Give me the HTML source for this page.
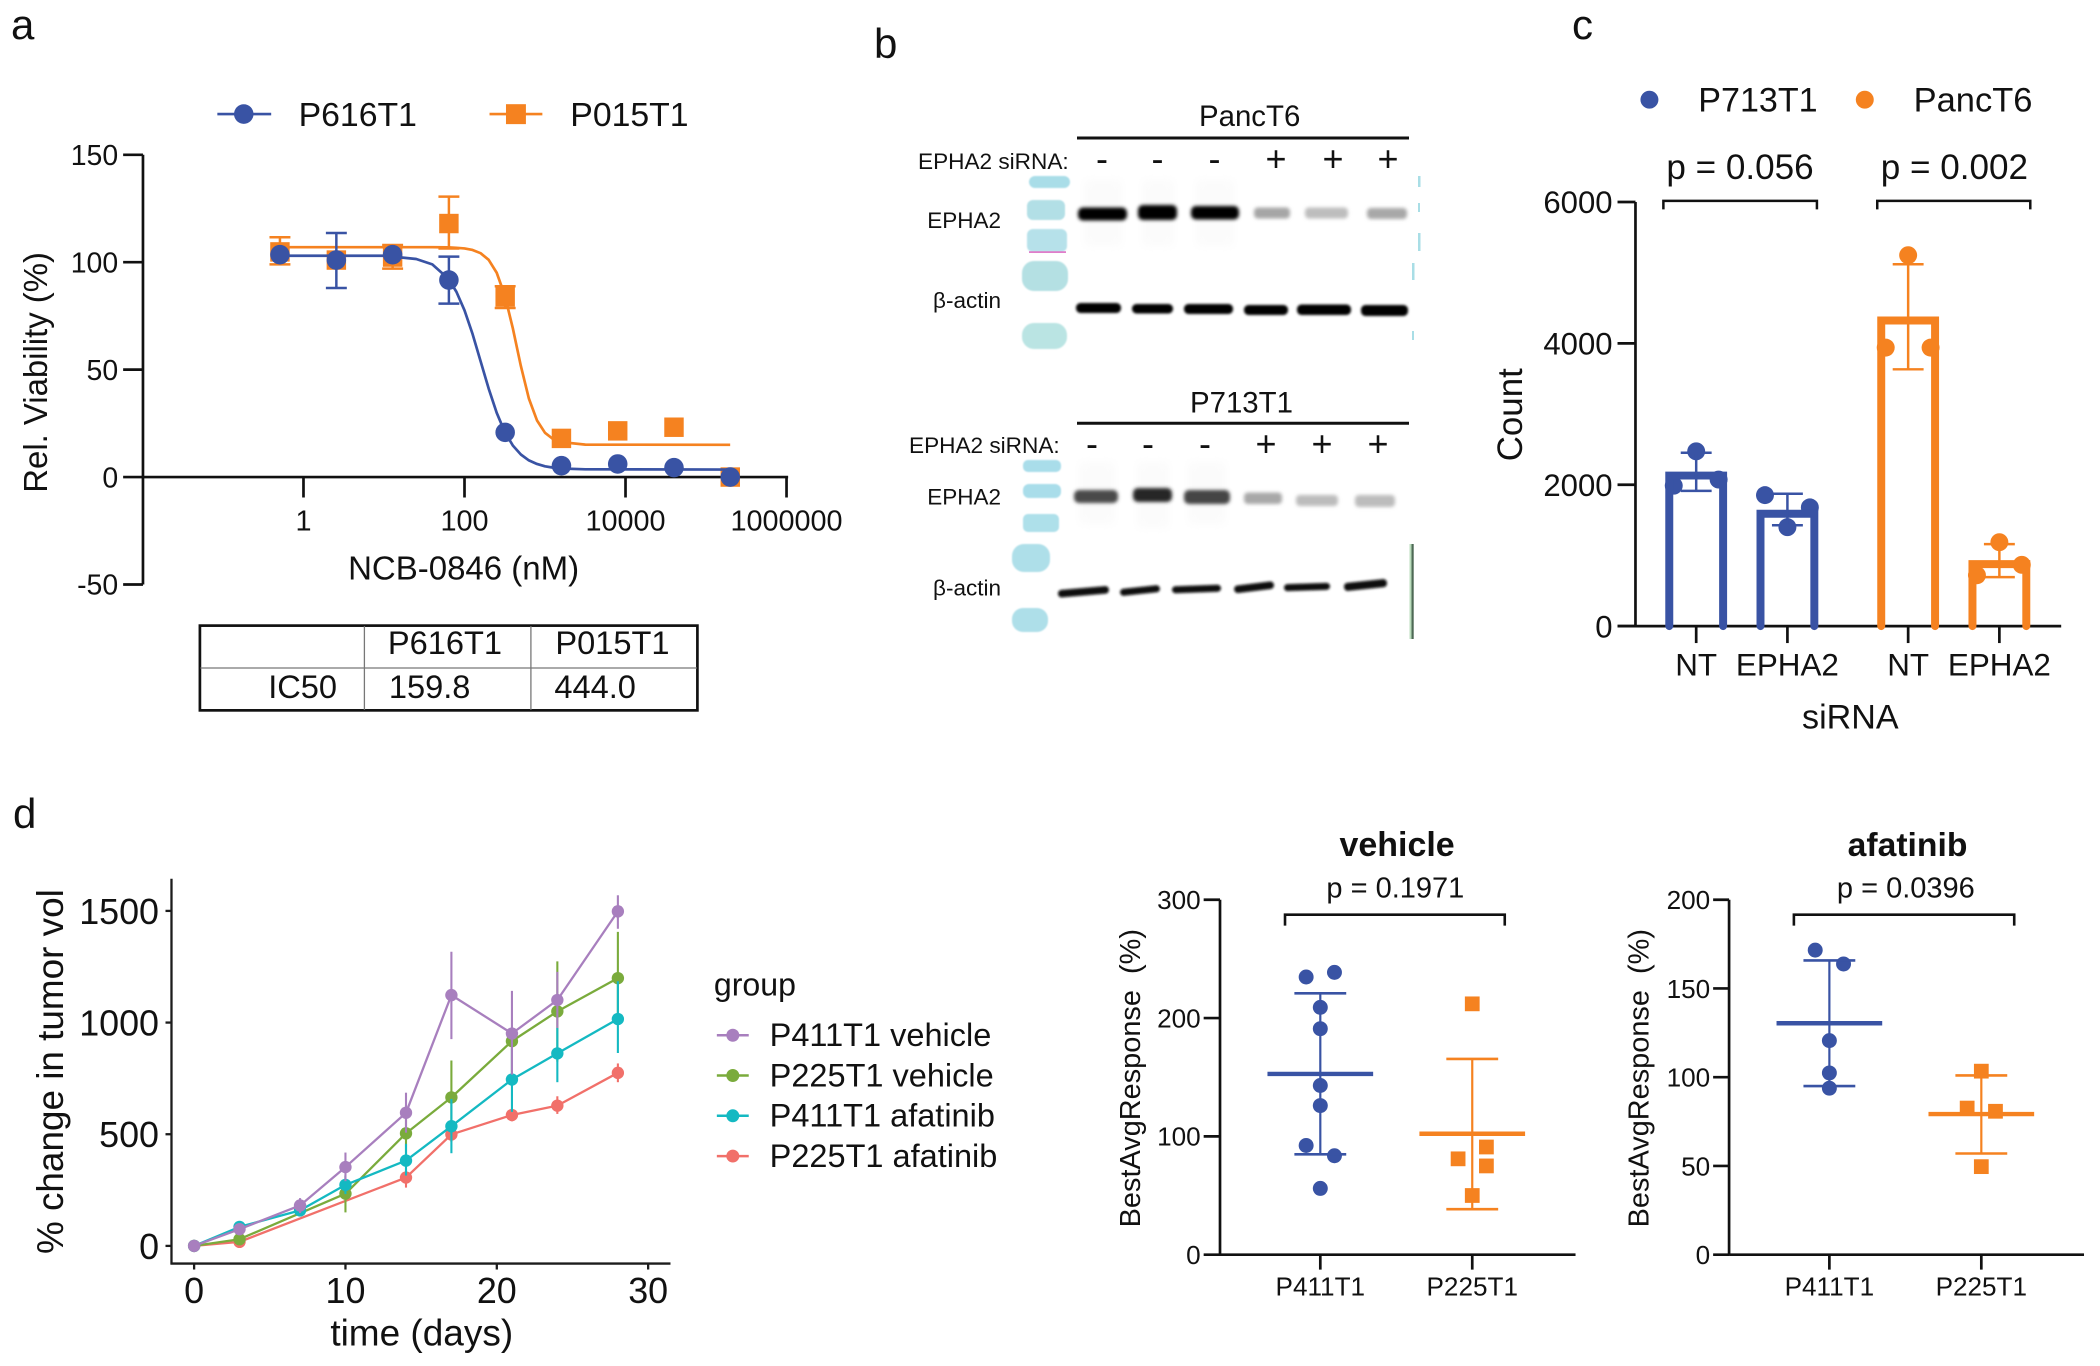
<!DOCTYPE html>
<html lang="en">
<head>
<meta charset="utf-8">
<title>Figure panels a to d</title>
<style>
html,body{margin:0;padding:0;background:#fff;}
svg{display:block;font-family:"Liberation Sans",Arial,sans-serif;}
text{fill:#111;}
</style>
</head>
<body>
<svg id="fig" xmlns="http://www.w3.org/2000/svg" width="2100" height="1366" viewBox="0 0 2100 1366">
<defs>
<filter id="blur2" x="-20%" y="-80%" width="140%" height="260%"><feGaussianBlur stdDeviation="1.8"/></filter>
<filter id="blur1" x="-10%" y="-50%" width="120%" height="200%"><feGaussianBlur stdDeviation="1.3"/></filter>
<filter id="blurL" x="-10%" y="-20%" width="120%" height="140%"><feGaussianBlur stdDeviation="0.9"/></filter>
<filter id="blur6" x="-30%" y="-30%" width="160%" height="160%"><feGaussianBlur stdDeviation="5"/></filter>
</defs>
<rect width="2100" height="1366" fill="#fff"/>

<text x="11" y="39" font-size="42">a</text>
<text x="874" y="58" font-size="42">b</text>
<text x="1572" y="39" font-size="42">c</text>
<text x="13" y="828" font-size="42">d</text>

<!-- Panel a -->
<g id="panelA" transform="scale(0.997)">
<text transform="translate(47,373.5) rotate(-90)" text-anchor="middle" font-size="33">Rel. Viability (%)</text>
<text x="465" y="581" text-anchor="middle" font-size="33.1">NCB-0846 (nM)</text>
<g>
<line x1="218" x2="272" y1="114.4" y2="114.4" stroke="#3953A4" stroke-width="2.7"/>
<circle cx="244.5" cy="114.4" r="9.8" fill="#3953A4"/>
<text x="299.5" y="126.5" font-size="33.9">P616T1</text>
</g>
<g>
<line x1="491" x2="544" y1="114.4" y2="114.4" stroke="#F58220" stroke-width="2.7"/>
<rect x="507.5" y="104.5" width="20" height="20" fill="#F58220"/>
<text x="572" y="126.5" font-size="33.9">P015T1</text>
</g>
</g>
<g transform="scale(0.997)">
<rect x="200.5" y="627.5" width="499" height="85" fill="none" stroke="#111" stroke-width="2.7"/>
<line x1="201" x2="699" y1="670" y2="670" stroke="#777" stroke-width="1.3"/>
<line x1="365.5" x2="365.5" y1="628" y2="712" stroke="#777" stroke-width="1.3"/>
<line x1="532.5" x2="532.5" y1="628" y2="712" stroke="#777" stroke-width="1.3"/>
<text x="389" y="656" font-size="32.7">P616T1</text>
<text x="557" y="656" font-size="32.7">P015T1</text>
<text x="269" y="700" font-size="32.7">IC50</text>
<text x="390" y="700" font-size="32.7">159.8</text>
<text x="556" y="700" font-size="32.7">444.0</text>
</g>

<!-- Panel b : western blots -->
<g>
<text x="1199" y="126" font-size="29.4">PancT6</text>
<line x1="1077" x2="1409" y1="138" y2="138" stroke="#111" stroke-width="3"/>
<text x="918" y="169" font-size="22.6">EPHA2 siRNA:</text>
<g font-size="36" text-anchor="middle">
<text x="1102" y="171">-</text>
<text x="1157.5" y="171">-</text>
<text x="1214.5" y="171">-</text>
<text x="1276" y="171">+</text>
<text x="1333" y="171">+</text>
<text x="1388" y="171">+</text>
</g>
<text x="1001" y="228" text-anchor="end" font-size="22.5">EPHA2</text>
<text x="1001" y="308" text-anchor="end" font-size="22.5">β-actin</text>

<g filter="url(#blur6)" fill="#fbfbfb">
<rect x="1084" y="180" width="38" height="66"/>
<rect x="1142" y="180" width="32" height="66"/>
<rect x="1196" y="180" width="38" height="66"/>
<rect x="1079" y="462" width="36" height="62"/>
<rect x="1137" y="462" width="32" height="66"/>
<rect x="1188" y="462" width="38" height="62"/>
</g>
<g filter="url(#blurL)">
<rect x="1029" y="176" width="41" height="12" rx="6" fill="#A9DDE8"/>
<rect x="1027" y="200" width="38" height="20" rx="6" fill="#B2DFE6"/>
<rect x="1027" y="229" width="40" height="23" rx="6" fill="#B6E1EA"/>
<rect x="1022" y="261" width="46" height="30" rx="12" fill="#B4E0E3"/>
<rect x="1022" y="323" width="45" height="26" rx="12" fill="#BAE4E3"/>
<rect x="1023" y="460" width="38" height="12" rx="5" fill="#A9DDEA"/>
<rect x="1023" y="484" width="38" height="14" rx="6" fill="#A9DDEA"/>
<rect x="1023" y="514" width="36" height="18" rx="5" fill="#AEE0EA"/>
<rect x="1012" y="544" width="38" height="28" rx="12" fill="#AEDFE9"/>
<rect x="1012" y="608" width="36" height="24" rx="11" fill="#AEDFE9"/>
</g>
<g fill="#A9DEE6">
<rect x="1418" y="176" width="2.5" height="11"/>
<rect x="1418" y="203" width="2" height="9"/>
<rect x="1418" y="233" width="2.5" height="18"/>
<rect x="1412" y="263" width="2.5" height="17"/>
<rect x="1412" y="331" width="2" height="9"/>
</g>
<rect x="1029" y="251.3" width="37" height="1.6" fill="#DE6FC4"/>
<g filter="url(#blur2)">
<rect x="1078" y="207.5" width="49" height="13" rx="5" fill="#000"/>
<rect x="1138" y="205" width="39" height="15" rx="5" fill="#000"/>
<rect x="1191" y="206" width="48" height="13.5" rx="5" fill="#000"/>
<rect x="1254" y="207.5" width="36" height="11" rx="4" fill="#a6a6a6"/>
<rect x="1305" y="207.5" width="43" height="11" rx="4" fill="#bdbdbd"/>
<rect x="1367" y="208" width="40" height="11" rx="4" fill="#a8a8a8"/>
</g>
<g filter="url(#blur1)" fill="#000">
<rect x="1076" y="303" width="45" height="10" rx="4.5"/>
<rect x="1132" y="304" width="41" height="9.5" rx="4.5"/>
<rect x="1184" y="304" width="49" height="10" rx="4.5"/>
<rect x="1244" y="305" width="44" height="10" rx="4.5"/>
<rect x="1297" y="304.5" width="54" height="10.5" rx="4.5"/>
<rect x="1361" y="305" width="47" height="11" rx="4.5"/>
</g>

<text x="1190" y="412.6" font-size="29.4">P713T1</text>
<line x1="1077" x2="1409" y1="423.2" y2="423.2" stroke="#111" stroke-width="3"/>
<text x="909" y="453.2" font-size="22.6">EPHA2 siRNA:</text>
<g font-size="36" text-anchor="middle">
<text x="1092" y="456">-</text>
<text x="1148" y="456">-</text>
<text x="1205" y="456">-</text>
<text x="1266" y="456">+</text>
<text x="1322" y="456">+</text>
<text x="1378" y="456">+</text>
</g>
<text x="1001" y="504.5" text-anchor="end" font-size="22.5">EPHA2</text>
<text x="1001" y="595.5" text-anchor="end" font-size="22.5">β-actin</text>
<g filter="url(#blur2)">
<rect x="1074" y="490" width="44" height="13" rx="5" fill="#4a4a4a"/>
<rect x="1133" y="488" width="39" height="14" rx="5" fill="#262626"/>
<rect x="1184" y="490" width="46" height="14" rx="5" fill="#454545"/>
<rect x="1244" y="492.5" width="38" height="11.5" rx="4" fill="#a8a8a8"/>
<rect x="1296" y="495" width="42" height="11" rx="4" fill="#bcbcbc"/>
<rect x="1355" y="495" width="40" height="12" rx="4" fill="#bcbcbc"/>
</g>
<g filter="url(#blur1)" fill="#0a0a0a">
<rect x="1058" y="588" width="51" height="7.5" rx="3.5" transform="rotate(-5 1083.5 592)"/>
<rect x="1120" y="587" width="40" height="7" rx="3.5" transform="rotate(-6 1140 590.5)"/>
<rect x="1172" y="585.5" width="49" height="7" rx="3.5" transform="rotate(-2 1196.5 589)"/>
<rect x="1234" y="583.5" width="40" height="7.5" rx="3.5" transform="rotate(-7 1254 587)"/>
<rect x="1284" y="583.5" width="46" height="7" rx="3.5" transform="rotate(-2 1307 587)"/>
<rect x="1344" y="581" width="43" height="8" rx="3.5" transform="rotate(-6 1365.5 585)"/>
</g>
<rect x="1409.5" y="544" width="2.2" height="95" fill="#BBDDBD"/>
<rect x="1411.5" y="544" width="2.2" height="95" fill="#4E6A55"/>
</g>

<!-- Panel c -->
<g id="panelC" transform="translate(1460,0) scale(0.997) translate(-1460,0)">
<g>
<circle cx="1650" cy="100" r="9" fill="#3953A4"/>
<text x="1699" y="112" font-size="34.2">P713T1</text>
</g>
<g>
<circle cx="1866" cy="100" r="9" fill="#F58220"/>
<text x="1915" y="112" font-size="34.6">PancT6</text>
</g>
<text x="1667" y="179.7" font-size="35.2">p = 0.056</text>
<text x="1882" y="179.7" font-size="35.2">p = 0.002</text>
<path d="M1664 210V201.5H1818V210" fill="none" stroke="#111" stroke-width="2.5"/>
<path d="M1878.5 210V201.5H2032V210" fill="none" stroke="#111" stroke-width="2.5"/>
<text transform="translate(1522,416) rotate(-90)" text-anchor="middle" font-size="35">Count</text>
<text x="1851.5" y="730.5" text-anchor="middle" font-size="34.2">siRNA</text>
</g>

<!-- Panel d line chart -->
<g id="panelD" transform="translate(0,780) scale(0.997) translate(0,-780)">
<text transform="translate(63,1072.5) rotate(-90)" text-anchor="middle" font-size="37">% change in tumor vol</text>
<text x="423" y="1347" text-anchor="middle" font-size="37.1">time (days)</text>
<text x="716" y="996" font-size="32.2">group</text>
</g>

<!-- Panel d dot plots -->
<g id="panelV" transform="translate(1090,810) scale(0.997) translate(-1090,-810)">
<text x="1398" y="856" text-anchor="middle" font-size="34.1" font-weight="bold">vehicle</text>
<text x="1396.3" y="898" text-anchor="middle" font-size="29.1">p = 0.1971</text>
<path d="M1285.6 926V915H1506V926" fill="none" stroke="#111" stroke-width="2.6"/>
<text transform="translate(1140,1079) rotate(-90)" text-anchor="middle" font-size="29" xml:space="preserve">BestAvgResponse  (%)</text>
</g>
<g id="panelF" transform="translate(1090,810) scale(0.997) translate(-1090,-810)">
<text x="1910" y="856" text-anchor="middle" font-size="33.8" font-weight="bold">afatinib</text>
<text x="1908.3" y="898" text-anchor="middle" font-size="29.1">p = 0.0396</text>
<path d="M1796 926V915H2017V926" fill="none" stroke="#111" stroke-width="2.6"/>
<text transform="translate(1650,1079) rotate(-90)" text-anchor="middle" font-size="29" xml:space="preserve">BestAvgResponse  (%)</text>
</g>

<script>
// ---- Panel a data
const aDoses = [0.51, 2.56, 12.8, 64, 320, 1600, 8000, 40000, 200000];
const aBlue = [103.5, 101, 103.5, 91.7, 20.8, 5.3, 6.1, 4.4, 0];
const aBlueHigh = [null, 113.6, null, 102.6, null, null, null, null, null];
const aBlueLow = [null, 88, null, 80.7, null, null, null, null, null];
const aOrange = [104.8, 101, 102.4, 118, 83.8, 18, 21.5, 23.2, 0];
const aOrangeHigh = [111.6, null, 108, 130.5, 88.8, null, null, null, null];
const aOrangeLow = [99, null, 97, 106.4, 78.7, null, null, null, null];
const aCurveLogDose = [-0.29, 0.5, 1.0, 1.4, 1.6, 1.8, 1.9, 2.0, 2.1, 2.2, 2.3, 2.4, 2.5, 2.6, 2.7, 2.8, 2.9, 3.0, 3.1, 3.2, 3.5, 5.3];
const aBlueCurve = [103, 103, 103, 101.5, 99, 92.3, 86.2, 77.6, 66.6, 53.9, 41.2, 29.9, 21, 14.7, 10.5, 7.75, 6.1, 5, 4.4, 4, 3.6, 3.5];
const aOrangeCurve = [107, 107, 107, 107, 107, 106.9, 106.7, 106.4, 105.7, 104.2, 101.1, 95.1, 84.6, 69.3, 51.7, 36.5, 26.4, 20.6, 17.7, 16.3, 15.1, 15];
const aYTicks = [150, 100, 50, 0, -50];
const aXTicks = [1, 100, 10000, 1000000];

// ---- Panel c data
const cCategories = ["NT", "EPHA2", "NT", "EPHA2"];
const cMeans = [2130, 1590, 4323, 877];
const cErrHigh = [2453, 1873, 5120, 1160];
const cErrLow = [1913, 1427, 3633, 693];
const cReplicates = [[2473, 1987, 2073], [1400, 1853, 1680], [5247, 3940, 3940], [1187, 720, 867]];
const cYTicks = [6000, 4000, 2000, 0];

// ---- Panel d line chart data
const dXTicks = [0, 10, 20, 30];
const dYTicks = [1500, 1000, 500, 0];
const dLegendLabels = ["P411T1 vehicle", "P225T1 vehicle", "P411T1 afatinib", "P225T1 afatinib"];
const purpleDays = [0, 3, 7, 10, 14, 17, 21, 24, 28];
const purpleVals = [0, 75, 181, 353, 596, 1123, 951, 1101, 1498];
const purpleHigh = [0, 90, 214, 418, 686, 1317, 1142, 1227, 1570];
const purpleLow = [0, 60, 147, 290, 507, 926, 767, 976, 1420];
const greenDays = [0, 3, 10, 14, 17, 21, 24, 28];
const greenVals = [0, 30, 234, 504, 665, 917, 1050, 1199];
const greenHigh = [0, 40, 315, 630, 830, 950, 1274, 1406];
const greenLow = [0, 20, 150, 382, 500, 767, 825, 993];
const tealDays = [0, 3, 7, 10, 14, 17, 21, 24, 28];
const tealVals = [0, 85, 159, 273, 382, 536, 745, 862, 1016];
const tealHigh = [0, 100, 175, 315, 457, 658, 884, 976, 1185];
const tealLow = [0, 70, 143, 232, 315, 415, 600, 733, 864];
const redDays = [0, 3, 14, 17, 21, 24, 28];
const redVals = [0, 18, 306, 499, 586, 628, 775];
const redHigh = [0, 30, 348, 532, 615, 670, 817];
const redLow = [0, 8, 261, 465, 558, 591, 733];

// ---- Dot plot data
const dotCategories = ["P411T1", "P225T1"];
const vehicleYTicks = [300, 200, 100, 0];
const vehicleBlue = [234.7, 238.6, 209, 191, 143, 126, 92.3, 83.6, 56];
const vehicleBlueStats = [152.8, 220.9, 84.8];
const vehicleOrange = [212, 91, 81, 75, 50];
const vehicleOrangeStats = [102.2, 165.4, 38.4];
const afatinibYTicks = [200, 150, 100, 50, 0];
const afatinibBlue = [171.6, 163.8, 120.6, 102.4, 93.8];
const afatinibBlueStats = [130.4, 165.8, 95];
const afatinibOrange = [103.4, 82.6, 80.8, 49.6];
const afatinibOrangeStats = [79.2, 101, 57];

// ---- Styling and helpers
const NS = "http://www.w3.org/2000/svg";
const BLUE = "#3953A4", ORANGE = "#F58220";

function add(parent, tag, name, props) {
  const el = document.createElementNS(NS, tag);
  
  
  for (const k in props) el.setAttribute(k, props[k]);
  parent.appendChild(el);
  return el;
}
function seg(parent, name, x1, y1, x2, y2, color, w) {
  return add(parent, "line", name, {x1, y1, x2, y2, stroke: color, "stroke-width": w});
}
function label(parent, name, x, y, size, anchor, str) {
  const t = add(parent, "text", name, {x, y, "font-size": size, "text-anchor": anchor});
  t.textContent = str;
  return t;
}
function yAxis(parent, x, yTop, yBot, ticks, yFn, tickLeft, labelRight, fs, color, w) {
  seg(parent, "y-axis-line", x, yTop, x, yBot, color, w);
  ticks.forEach(v => {
    seg(parent, "y-tick-" + v, tickLeft, yFn(v), x, yFn(v), color, w);
    label(parent, "y-tick-label-" + v, labelRight, yFn(v) + fs * 0.36, fs, "end", String(v));
  });
}
function square(parent, name, cx, cy, s, fill) {
  return add(parent, "rect", name, {x: cx - s / 2, y: cy - s / 2, width: s, height: s, fill});
}
function circle(parent, name, cx, cy, r, fill) {
  return add(parent, "circle", name, {cx, cy, r, fill});
}
function polyline(parent, name, xs, ys, color, w) {
  return add(parent, "polyline", name, {points: xs.map((x, i) => x + "," + ys[i]).join(" "), fill: "none", stroke: color, "stroke-width": w, "stroke-linejoin": "round"});
}

// ---- Panel a
const gA = document.getElementById("panelA");
const xALog = l => 304.4 + 80.75 * l;
const xA = d => xALog(Math.log10(d));
const yA = v => 478.5 - v * 2.155;
yAxis(gA, 143.4, yA(150), yA(-50), aYTicks, yA, 123.5, 118.5, 28.5, "#111", 2.7);
seg(gA, "x-axis-line", 142, yA(0), 790.5, yA(0), "#111", 2.7);
aXTicks.forEach(v => {
  seg(gA, "x-tick-" + v, xA(v), yA(0), xA(v), 499, "#111", 2.7);
  label(gA, "x-tick-label-" + v, xA(v), 532, 28.9, "middle", String(v));
});
polyline(gA, "fit-curve-p015t1", aCurveLogDose.map(xALog), aOrangeCurve.map(yA), ORANGE, 2.7);
aDoses.forEach((d, i) => {
  if (aOrangeHigh[i] !== null) {
    const x = xA(d);
    seg(gA, "error-bar-p015t1", x, yA(aOrangeHigh[i]), x, yA(aOrangeLow[i]), ORANGE, 2.5);
    seg(gA, "error-cap-p015t1", x - 10.5, yA(aOrangeHigh[i]), x + 10.5, yA(aOrangeHigh[i]), ORANGE, 2.5);
    seg(gA, "error-cap-p015t1", x - 10.5, yA(aOrangeLow[i]), x + 10.5, yA(aOrangeLow[i]), ORANGE, 2.5);
  }
  square(gA, "point-p015t1", xA(d), yA(aOrange[i]), 19.5, ORANGE);
});
polyline(gA, "fit-curve-p616t1", aCurveLogDose.map(xALog), aBlueCurve.map(yA), BLUE, 2.7);
aDoses.forEach((d, i) => {
  if (aBlueHigh[i] !== null) {
    const x = xA(d);
    seg(gA, "error-bar-p616t1", x, yA(aBlueHigh[i]), x, yA(aBlueLow[i]), BLUE, 2.5);
    seg(gA, "error-cap-p616t1", x - 10.5, yA(aBlueHigh[i]), x + 10.5, yA(aBlueHigh[i]), BLUE, 2.5);
    seg(gA, "error-cap-p616t1", x - 10.5, yA(aBlueLow[i]), x + 10.5, yA(aBlueLow[i]), BLUE, 2.5);
  }
  circle(gA, "point-p616t1", xA(d), yA(aBlue[i]), 9.8, BLUE);
});

// ---- Panel c
const gC = document.getElementById("panelC");
const xC = i => 1696.9 + i * 91.5 + (i >= 2 ? 29.6 : 0);
const yC = v => 628 - v * 0.0709;
yAxis(gC, 1636, yC(6000), yC(0), cYTicks, yC, 1618, 1613, 31.2, "#111", 2.7);
seg(gC, "x-axis-line", 1618, yC(0), 2063, yC(0), "#111", 2.7);
cCategories.forEach((c, i) => {
  const color = i < 2 ? BLUE : ORANGE;
  const x = xC(i), hw = 27, cap = 15.5;
  const lean = [0, -1, 1];
  cReplicates[i].forEach((v, j) => {
    circle(gC, "replicate-point", x + lean[j] * 22.5, yC(v), 9, color);
  });
  add(gC, "path", "bar-" + c.toLowerCase() + "-" + i, {
    d: "M" + (x - hw) + " " + yC(0) + "V" + yC(cMeans[i]) + "H" + (x + hw) + "V" + yC(0),
    fill: "none", stroke: color, "stroke-width": 8, "stroke-linecap": "round"
  });
  seg(gC, "error-bar", x, yC(cErrHigh[i]), x, yC(cErrLow[i]), color, 2.5);
  seg(gC, "error-cap", x - cap, yC(cErrHigh[i]), x + cap, yC(cErrHigh[i]), color, 2.5);
  seg(gC, "error-cap", x - cap, yC(cErrLow[i]), x + cap, yC(cErrLow[i]), color, 2.5);
  seg(gC, "x-tick", x, yC(0), x, 645, "#111", 2.7);
  label(gC, "x-tick-label-" + c.toLowerCase(), x, 677.5, 31.5, "middle", c);
});

// ---- Panel d line chart
const gD = document.getElementById("panelD");
const xD = d => 194.7 + d * 15.18;
const yD = v => 1247.3 - v * 0.224;
const INK = "#1c1c1c";
seg(gD, "y-axis-line", 172, 879, 172, 1266, INK, 2.3);
seg(gD, "x-axis-line", 171, 1265, 672.5, 1265, INK, 2.3);
dYTicks.forEach(v => {
  seg(gD, "y-tick-" + v, 166, yD(v), 172, yD(v), INK, 2.3);
  label(gD, "y-tick-label-" + v, 159.5, yD(v) + 13, 36, "end", String(v));
});
dXTicks.forEach(v => {
  seg(gD, "x-tick-" + v, xD(v), 1265, xD(v), 1271, INK, 2.3);
  label(gD, "x-tick-label-" + v, xD(v), 1304.5, 36, "middle", String(v));
});
function growth(name, days, vals, high, low, color) {
  const g = add(gD, "g", "series-" + name, {});
  polyline(g, "line-" + name, days.map(xD), vals.map(yD), color, 2.3);
  days.forEach((d, i) => {
    seg(g, "error-bar-" + name, xD(d), yD(high[i]), xD(d), yD(low[i]), color, 2.1);
    circle(g, "point-" + name, xD(d), yD(vals[i]), 6.2, color);
  });
}
growth("p225t1-afatinib", redDays, redVals, redHigh, redLow, "#F1706A");
growth("p225t1-vehicle", greenDays, greenVals, greenHigh, greenLow, "#7AAB3C");
growth("p411t1-afatinib", tealDays, tealVals, tealHigh, tealLow, "#14B9C2");
growth("p411t1-vehicle", purpleDays, purpleVals, purpleHigh, purpleLow, "#A87FBE");
const legendColors = ["#A87FBE", "#7AAB3C", "#14B9C2", "#F1706A"];
dLegendLabels.forEach((t, i) => {
  const y = 1036 + i * 40.4;
  const g = add(gD, "g", "legend-entry", {});
  
  seg(g, "legend-line", 719, y, 751, y, legendColors[i], 2.5);
  circle(g, "legend-marker", 735, y, 6.5, legendColors[i]);
  label(g, "legend-label", 772, y + 11, 32.6, "start", t);
});

// ---- Dot plots
function dotPlot(id, x0, axisX, tickLeft, labelRight, yMax, ticks, seriesBlue, statsBlue, seriesOrange, statsOrange, leanBlue, leanOrange, axisEnd) {
  const g = document.getElementById(id);
  const y = v => 1256 - v * 356 / yMax;
  const x = i => x0 + i * 152.4;
  yAxis(g, axisX, y(yMax), y(0), ticks, y, tickLeft, labelRight, 26.2, "#111", 2.7);
  seg(g, "x-axis-line", axisX, y(0), axisEnd, y(0), "#111", 2.7);
  dotCategories.forEach((c, i) => {
    seg(g, "x-tick-" + c, x(i), y(0), x(i), 1271, "#111", 2.7);
    label(g, "x-tick-label-" + c, x(i), 1297, 26.2, "middle", c);
  });
  function stats(i, s, color) {
    seg(g, "error-bar", x(i), y(s[1]), x(i), y(s[2]), color, 2.2);
    seg(g, "error-cap", x(i) - 26, y(s[1]), x(i) + 26, y(s[1]), color, 2.6);
    seg(g, "error-cap", x(i) - 26, y(s[2]), x(i) + 26, y(s[2]), color, 2.6);
    seg(g, "mean-line", x(i) - 53, y(s[0]), x(i) + 53, y(s[0]), color, 4.4);
  }
  seriesBlue.forEach((v, j) => {
    circle(g, "point-p411t1", x(0) + leanBlue[j] * 14.2, y(v), 7.5, BLUE);
  });
  stats(0, statsBlue, BLUE);
  seriesOrange.forEach((v, j) => {
    square(g, "point-p225t1", x(1) + leanOrange[j] * 14.2, y(v), 14.8, ORANGE);
  });
  stats(1, statsOrange, ORANGE);
}
dotPlot("panelV", 1321, 1220.4, 1204, 1201, 300, vehicleYTicks, vehicleBlue, vehicleBlueStats, vehicleOrange, vehicleOrangeStats,
  [-1, 1, 0, 0, 0, 0, -1, 1, 0], [0, 1, -1, 1, 0], 1577);
dotPlot("panelF", 1831.6, 1731, 1715, 1712, 200, afatinibYTicks, afatinibBlue, afatinibBlueStats, afatinibOrange, afatinibOrangeStats,
  [-1, 1, 0, 0, 0], [0, -1, 1, 0], 2087);
</script>
</svg>
</body>
</html>
